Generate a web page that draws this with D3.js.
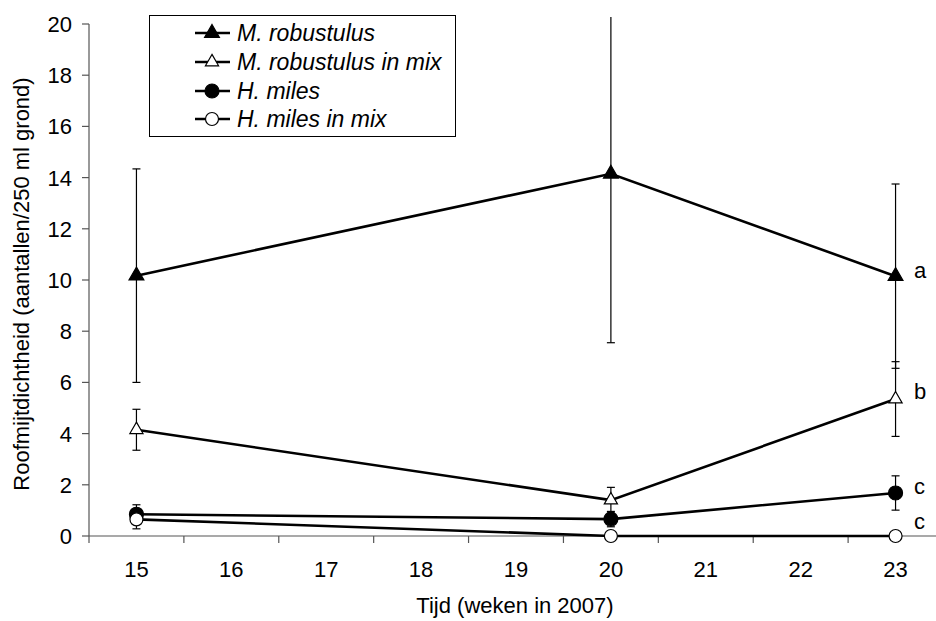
<!DOCTYPE html>
<html>
<head>
<meta charset="utf-8">
<script src="https://cdn.jsdelivr.net/npm/d3@7"></script>
<style>
  html, body { margin: 0; padding: 0; background: #fff; }
  svg text { font-family: "Liberation Sans", Arial, sans-serif; }
</style>
</head>
<body>
<svg id="chart" width="936" height="621"></svg>
<script>
const weeks = [15, 20, 23];
const weekTicks = [15, 16, 17, 18, 19, 20, 21, 22, 23];
const yTicks = [0, 2, 4, 6, 8, 10, 12, 14, 16, 18, 20];

const robMean = [10.17, 14.15, 10.15];
const robErr = [4.17, 6.6, 3.6];
const robMixMean = [4.15, 1.4, 5.35];
const robMixErr = [0.8, 0.5, 1.46];
const milesMean = [0.85, 0.66, 1.68];
const milesErr = [0.37, 0.3, 0.67];
const milesMixMean = [0.65, 0, 0];
const milesMixErr = [0.37, 0, 0];

const seriesNames = ["M. robustulus", "M. robustulus in mix", "H. miles", "H. miles in mix"];
const letters = ["a", "b", "c", "c"];

const series = [
  { name: seriesNames[0], mean: robMean, err: robErr, shape: "triangle", filled: true, letter: letters[0] },
  { name: seriesNames[1], mean: robMixMean, err: robMixErr, shape: "triangle", filled: false, letter: letters[1] },
  { name: seriesNames[2], mean: milesMean, err: milesErr, shape: "circle", filled: true, letter: letters[2] },
  { name: seriesNames[3], mean: milesMixMean, err: milesMixErr, shape: "circle", filled: false, letter: letters[3] }
];

const svg = d3.select("#chart");
const axisColor = "#555";
const fontSize = 22;

const x = d3.scaleLinear().domain([14.5, 23.5]).range([89, 943]);
const y = d3.scaleLinear().domain([0, 20]).range([536, 24]);

svg.append("defs").append("clipPath").attr("id", "plot")
  .append("rect").attr("x", 89).attr("y", 17).attr("width", 860).attr("height", 540);

// y axis
const yAxis = svg.append("g");
yAxis.append("line").attr("x1", 89).attr("x2", 89).attr("y1", y(20)).attr("y2", y(0))
  .attr("stroke", axisColor).attr("stroke-width", 1.2);
yAxis.selectAll("line.tick").data(yTicks).join("line").attr("class", "tick")
  .attr("x1", 82).attr("x2", 89).attr("y1", d => y(d)).attr("y2", d => y(d))
  .attr("stroke", axisColor).attr("stroke-width", 1.2);
yAxis.selectAll("text").data(yTicks).join("text")
  .attr("x", 72).attr("y", d => y(d)).attr("dy", "0.36em")
  .attr("text-anchor", "end").attr("font-size", fontSize).attr("fill", "#000")
  .text(d => d);

// x axis (category style: ticks between weeks)
const xAxis = svg.append("g");
const bounds = d3.range(14.5, 24, 1);
xAxis.append("line").attr("x1", 89).attr("x2", 943).attr("y1", y(0)).attr("y2", y(0))
  .attr("stroke", axisColor).attr("stroke-width", 1.2);
xAxis.selectAll("line.tick").data(bounds).join("line").attr("class", "tick")
  .attr("x1", d => x(d)).attr("x2", d => x(d)).attr("y1", y(0)).attr("y2", y(0) + 7)
  .attr("stroke", axisColor).attr("stroke-width", 1.2);
xAxis.selectAll("text").data(weekTicks).join("text")
  .attr("x", d => x(d)).attr("y", 577)
  .attr("text-anchor", "middle").attr("font-size", fontSize).attr("fill", "#000")
  .text(d => d);

svg.append("text").attr("x", 515).attr("y", 613).attr("text-anchor", "middle")
  .attr("font-size", fontSize).text("Tijd (weken in 2007)");
svg.append("text").attr("transform", "translate(29,284) rotate(-90)").attr("text-anchor", "middle")
  .attr("font-size", fontSize).text("Roofmijtdichtheid (aantallen/250 ml grond)");

const plot = svg.append("g").attr("clip-path", "url(#plot)");

function drawMarker(g, s, cx, cy) {
  const fill = s.filled ? "#000" : "#fff";
  if (s.shape === "triangle") {
    g.append("path")
      .attr("d", d3.symbol().type(d3.symbolTriangle).size(s.filled ? 95 : 75)())
      .attr("transform", "translate(" + cx + "," + cy + ")")
      .attr("fill", fill).attr("stroke", "#000").attr("stroke-width", 1.2);
  } else {
    g.append("circle").attr("cx", cx).attr("cy", cy).attr("r", s.filled ? 7 : 6.5)
      .attr("fill", fill).attr("stroke", "#000").attr("stroke-width", 1.2);
  }
}

const line = d3.line().x(d => x(d[0])).y(d => y(d[1]));

// error bars
series.forEach(s => {
  weeks.forEach((w, i) => {
    if (!s.err[i]) return;
    const lo = s.mean[i] - s.err[i];
    const hi = s.mean[i] + s.err[i];
    const cx = x(w);
    plot.append("line").attr("x1", cx).attr("x2", cx).attr("y1", y(lo)).attr("y2", y(hi))
      .attr("stroke", "#000").attr("stroke-width", 1.2);
    [lo, hi].forEach(v => {
      if (v > 20) return;
      plot.append("line").attr("x1", cx - 4).attr("x2", cx + 4).attr("y1", y(v)).attr("y2", y(v))
        .attr("stroke", "#000").attr("stroke-width", 1.2);
    });
  });
});

// lines and markers
series.forEach(s => {
  const pts = weeks.map((w, i) => [w, s.mean[i]]);
  plot.append("path").attr("d", line(pts)).attr("fill", "none")
    .attr("stroke", "#000").attr("stroke-width", 2.6);
});
series.forEach(s => {
  weeks.forEach((w, i) => drawMarker(plot, s, x(w), y(s.mean[i])));
});

// significance letters
const letterY = [270, 391, 486, 521];
series.forEach((s, i) => {
  svg.append("text").attr("x", 914).attr("y", letterY[i]).attr("dy", "0.36em")
    .attr("font-size", fontSize).text(s.letter);
});

// legend
const legend = svg.append("g");
legend.append("rect").attr("x", 149.5).attr("y", 15.5).attr("width", 306).attr("height", 121)
  .attr("fill", "#fff").attr("stroke", "#000").attr("stroke-width", 1);
const legY = [33, 62, 91, 119];
series.forEach((s, i) => {
  legend.append("line").attr("x1", 195).attr("x2", 230).attr("y1", legY[i]).attr("y2", legY[i])
    .attr("stroke", "#000").attr("stroke-width", 2.6);
  drawMarker(legend, s, 212, legY[i]);
  legend.append("text").attr("x", 237).attr("y", legY[i]).attr("dy", "0.36em")
    .attr("font-size", 23).attr("font-style", "italic").text(s.name);
});
</script>
</body>
</html>
